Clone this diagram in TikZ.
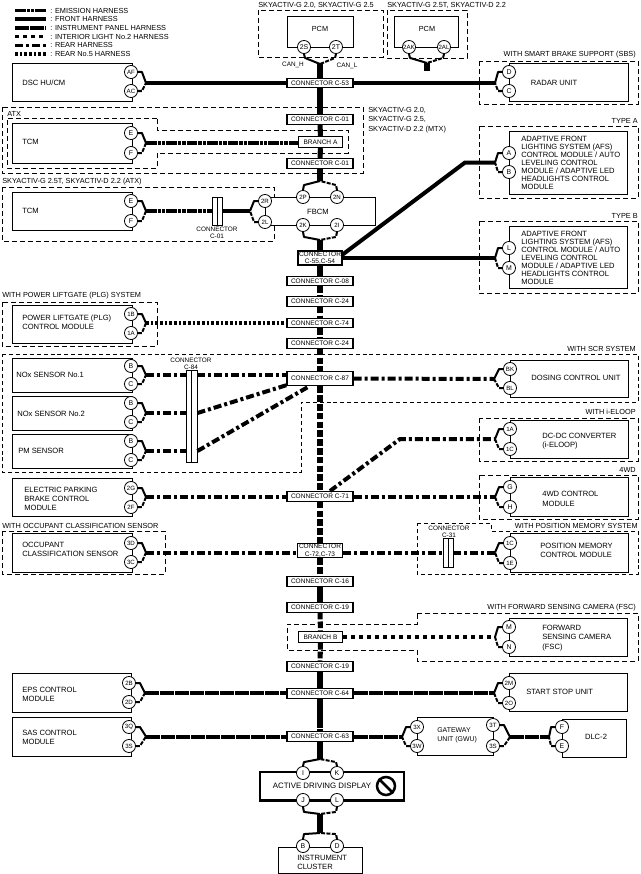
\documentclass[tikz,border=0pt]{standalone}
\usepackage{fontspec}
\setmainfont{Liberation Sans}
\usetikzlibrary{fit}
\tikzset{
  emission/.style={line width=3pt,dash pattern=on 8pt off .7pt on 2.6pt off .7pt on 2.6pt off .7pt},
  front/.style={line width=3pt},
  instr/.style={line width=3pt,dash pattern=on 10.5pt off .75pt},
  interior/.style={line width=3pt,dash pattern=on 3pt off 3pt},
  rear/.style={line width=3pt,dash pattern=on 6pt off 2.25pt on 2.25pt off 2.25pt},
  rearfive/.style={line width=3pt,dash pattern=on 2pt off 1.5pt},
  trunk/.style={line width=3.8pt},
  trunkdash/.style={line width=3.8pt,dash pattern=on 5pt off 1.6pt},
  trunkinstr/.style={line width=3.8pt,dash pattern=on 22pt off .6pt},
  forkup/.style={line width=1.5pt,line join=round},
  forkdn/.style={line width=1.5pt,line join=round,dash pattern=on 3pt off 1pt},
  zone/.style={line width=.7pt,dash pattern=on 3.6pt off 2.4pt},
  thinzone/.style={line width=.55pt,dash pattern=on 3pt off 2.2pt},
  modbox/.style={draw,line width=.6pt,fill=white,inner sep=0pt},
  conbar/.style={draw,line width=.7pt,fill=white,inner sep=0pt},
  pinnode/.style={circle,draw,line width=.6pt,fill=white,inner sep=0pt,minimum size=9.8pt,font=\fontsize{5.2}{6}\selectfont},
  smallpin/.style={pinnode,font=\fontsize{4.6}{5}\selectfont},
  conn/.style={draw,line width=.8pt,fill=white,inner sep=0pt,minimum width=49.5pt,minimum height=7pt,font=\fontsize{4.9}{5.6}\selectfont,align=center},
  txt/.style={inner sep=0pt,anchor=west,align=left,font=\fontsize{5.7}{7}\selectfont},
  dense/.style={inner sep=0pt,anchor=west,align=left,font=\fontsize{5.7}{6}\selectfont},
  lab/.style={inner sep=0pt,font=\fontsize{5.5}{7}\selectfont},
  tiny/.style={inner sep=0pt,align=center,font=\fontsize{4.8}{5.5}\selectfont},
}
\newcommand\forkL[3]{%
  \draw[forkup] (#1.east) -- ++(4,0) -- (#3);
  \draw[forkdn] (#2.east) -- ++(4,0) -- (#3);}
\newcommand\forkR[3]{%
  \draw[forkup] (#1.west) -- ++(-4,0) -- (#3);
  \draw[forkdn] (#2.west) -- ++(-4,0) -- (#3);}
\begin{document}
\begin{tikzpicture}[x=.75pt,y=-.75pt]
\path[use as bounding box,fill=white] (0,0) rectangle (640,874);

% legend
\node[lab,anchor=west] (l1) at (50,10.5) {: EMISSION HARNESS};
\node[lab,anchor=west] (l2) at (50,19) {: FRONT HARNESS};
\node[lab,anchor=west] (l3) at (50,28) {: INSTRUMENT PANEL HARNESS};
\node[lab,anchor=west] (l4) at (50,36.7) {: INTERIOR LIGHT No.2 HARNESS};
\node[lab,anchor=west] (l5) at (50,45.3) {: REAR HARNESS};
\node[lab,anchor=west] (l6) at (50,54) {: REAR No.5 HARNESS};
\draw[emission,line width=2.6pt] (l1.west) ++(-35,0) -- ++(31,0);
\draw[front,line width=2.6pt] (l2.west) ++(-35,0) -- ++(31,0);
\draw[instr,line width=2.6pt] (l3.west) ++(-35,0) -- ++(31,0);
\draw[interior,line width=2.6pt] (l4.west) ++(-35,0) -- ++(31,0);
\draw[rear,line width=2.6pt] (l5.west) ++(-35,0) -- ++(31,0);
\draw[rearfive,line width=2.6pt] (l6.west) ++(-35,0) -- ++(31,0);

% dashed zones
\draw[zone] (258,10) rectangle (383,57);
\draw[zone] (387,10) rectangle (467,58);
\draw[zone] (479,61) rectangle (638,104);
\draw[zone] (2,107) rectangle (363,173);
\draw[zone] (157,118) -- (7,118) -- (7,168) -- (157,168) -- (157,153) -- (348,153) -- (348,130) -- (157,130) -- cycle;
\draw[zone] (479,126) rectangle (638,198);
\draw[zone] (2,187) rectangle (274,241);
\draw[zone] (479,221) rectangle (638,293);
\draw[zone] (2,302) rectangle (157,346);
\draw[thinzone] (2,354) -- (638,354) -- (638,402) -- (301,402) -- (301,472) -- (2,472) -- cycle;
\draw[zone] (479,418) rectangle (638,461);
\draw[zone] (479,475) rectangle (638,519);
\draw[zone] (2,531) rectangle (165,574);
\draw[thinzone] (417,523) -- (491,523) -- (491,531) -- (638,531) -- (638,574) -- (417,574) -- cycle;
\draw[zone] (417,613) -- (638,613) -- (638,661) -- (417,661) -- (417,650) -- (287,650) -- (287,624) -- (417,624) -- cycle;

% zone labels
\node[lab,anchor=west] (z1) at (258,5) {SKYACTIV-G 2.0, SKYACTIV-G 2.5};
\node[lab,anchor=west] (z2) at (387,5) {SKYACTIV-G 2.5T, SKYACTIV-D 2.2};
\node[lab,anchor=east] (z3) at (636,55) {WITH SMART BRAKE SUPPORT (SBS)};
\node[lab,anchor=west] (z4) at (7,114) {ATX};
\node[lab,anchor=west,align=left,font=\fontsize{5.5}{6.9}\selectfont] (z5) at (368,120) {SKYACTIV-G 2.0,\\SKYACTIV-G 2.5,\\SKYACTIV-D 2.2 (MTX)};
\node[lab,anchor=east] (z6) at (638,121) {TYPE A};
\node[lab,anchor=west] (z7) at (2,182) {SKYACTIV-G 2.5T, SKYACTIV-D 2.2 (ATX)};
\node[lab,anchor=east] (z8) at (638,216) {TYPE B};
\node[lab,anchor=west] (z9) at (2,296) {WITH POWER LIFTGATE (PLG) SYSTEM};
\node[lab,anchor=east] (z10) at (636,349) {WITH SCR SYSTEM};
\node[lab,anchor=east] (z11) at (636,412) {WITH i-ELOOP};
\node[lab,anchor=east] (z12) at (636,470) {4WD};
\node[lab,anchor=west] (z13) at (2,526) {WITH OCCUPANT CLASSIFICATION SENSOR};
\node[lab,anchor=east] (z14) at (638,526) {WITH POSITION MEMORY SYSTEM};
\node[lab,anchor=east] (z15) at (636,608) {WITH FORWARD SENSING CAMERA (FSC)};

% module boxes
\node[modbox,fit={(287,16)(353,47)}] (pcma) {};
\node[modbox,fit={(394,16)(458,47)}] (pcmb) {};
\node[modbox,fit={(12,63)(132,101)}] (dsc) {};
\node[modbox,fit={(509,63)(628,101)}] (radar) {};
\node[modbox,fit={(12,123)(132,163)}] (tcma) {};
\node[modbox,fit={(509,131)(627,194)}] (afsa) {};
\node[modbox,fit={(12,192)(132,230)}] (tcmb) {};
\node[modbox,fit={(265,197)(375,225)}] (fbcm) {};
\node[modbox,fit={(509,226)(627,288)}] (afsb) {};
\node[modbox,fit={(12,305)(132,343)}] (plg) {};
\node[modbox,fit={(12,358)(132,392)}] (noxa) {};
\node[modbox,fit={(12,396)(132,430)}] (noxb) {};
\node[modbox,fit={(12,434)(132,468)}] (pm) {};
\node[modbox,fit={(510,360)(628,397)}] (dosing) {};
\node[modbox,fit={(510,420)(628,458)}] (dcdc) {};
\node[modbox,fit={(12,478)(132,516)}] (epb) {};
\node[modbox,fit={(510,477)(628,516)}] (fourwd) {};
\node[modbox,fit={(12,533)(132,572)}] (occ) {};
\node[modbox,fit={(510,533)(628,572)}] (posm) {};
\node[modbox,fit={(509,618)(627,656)}] (fsc) {};
\node[modbox,fit={(12,673)(131,712)}] (eps) {};
\node[modbox,fit={(509,673)(627,711)}] (ssu) {};
\node[modbox,fit={(12,717)(131,756)}] (sas) {};
\node[modbox,fit={(417,717)(493,755)}] (gwu) {};
\node[modbox,fit={(562,719)(626,757)}] (dlc) {};
\node[modbox,line width=1.6pt,fit={(260,772)(404,800.5)}] (add) {};
\node[modbox,fit={(278,847)(362,873)}] (cluster) {};

% module texts
\node[lab] (tp1) at (320,29) {PCM};
\node[lab] (tp2) at (427,29) {PCM};
\node[txt] (t1) at (22,83) {DSC HU/CM};
\node[lab,font=\fontsize{5.7}{7}\selectfont] (t2) at (554,83) {RADAR UNIT};
\node[txt] (t3) at (22,142) {TCM};
\node[txt] (t4) at (22,211) {TCM};
\node[lab,font=\fontsize{5.7}{7}\selectfont] (t5) at (318,212) {FBCM};
\node[dense] (t6) at (521,162.5) {ADAPTIVE FRONT\\LIGHTING SYSTEM (AFS)\\CONTROL MODULE / AUTO\\LEVELING CONTROL\\MODULE / ADAPTIVE LED\\HEADLIGHTS CONTROL\\MODULE};
\node[dense] (t7) at (521,257.5) {ADAPTIVE FRONT\\LIGHTING SYSTEM (AFS)\\CONTROL MODULE / AUTO\\LEVELING CONTROL\\MODULE / ADAPTIVE LED\\HEADLIGHTS CONTROL\\MODULE};
\node[txt] (t8) at (22,322) {POWER LIFTGATE (PLG)\\CONTROL MODULE};
\node[txt] (t9) at (16,375) {NOx SENSOR No.1};
\node[txt] (t10) at (17,414) {NOx SENSOR No.2};
\node[txt] (t11) at (18,451) {PM SENSOR};
\node[lab,font=\fontsize{5.7}{7}\selectfont] (t12) at (576,378) {DOSING CONTROL UNIT};
\node[txt] (t13) at (542,441) {DC-DC CONVERTER\\(i-ELOOP)};
\node[txt] (t14) at (24,499) {ELECTRIC PARKING\\BRAKE CONTROL\\MODULE};
\node[txt] (t15) at (542,499) {4WD CONTROL\\MODULE};
\node[txt] (t16) at (22,549.5) {OCCUPANT\\CLASSIFICATION SENSOR};
\node[txt] (t17) at (540,550.5) {POSITION MEMORY\\CONTROL MODULE};
\node[txt] (t18) at (542,638) {FORWARD\\SENSING CAMERA\\(FSC)};
\node[txt] (t19) at (22,694.5) {EPS CONTROL\\MODULE};
\node[txt] (t20) at (526,692) {START STOP UNIT};
\node[txt] (t21) at (22,737.5) {SAS CONTROL\\MODULE};
\node[dense,font=\fontsize{5.2}{6.8}\selectfont] (t22) at (437,735.5) {GATEWAY\\UNIT (GWU)};
\node[lab,font=\fontsize{5.7}{7}\selectfont] (t23) at (596,737) {DLC-2};
\node[lab,font=\fontsize{5.9}{7}\selectfont] (t24) at (322,786) {ACTIVE DRIVING DISPLAY};
\node[txt] (t25) at (297,862.5) {INSTRUMENT\\CLUSTER};

% connector boxes on the trunk
\node[conn] (c53) at (320,83) {CONNECTOR C-53};
\node[conn] (c01a) at (320,119.5) {CONNECTOR C-01};
\node[conn,minimum width=33.5pt,minimum height=8.5pt] (bra) at (320.5,142) {BRANCH A};
\node[conn] (c01b) at (320,163.5) {CONNECTOR C-01};
\node[conn,minimum width=33pt,minimum height=10.5pt] (c55) at (320,258) {CONNECTOR\\C-55,C-54};
\node[conn] (c08) at (320,281) {CONNECTOR C-08};
\node[conn] (c24a) at (320,301.5) {CONNECTOR C-24};
\node[conn] (c74) at (320,323) {CONNECTOR C-74};
\node[conn] (c24b) at (320,343.5) {CONNECTOR C-24};
\node[conn,minimum height=11pt] (c87) at (320,378.5) {CONNECTOR C-87};
\node[conn] (c71) at (320,496.5) {CONNECTOR C-71};
\node[conn,minimum width=34pt,minimum height=11pt] (c72) at (320,550.5) {CONNECTOR\\C-72,C-73};
\node[conn] (c16) at (320,581.5) {CONNECTOR C-16};
\node[conn] (c19a) at (320,607.5) {CONNECTOR C-19};
\node[conn,minimum width=33.5pt,minimum height=8pt] (brb) at (320.5,637) {BRANCH B};
\node[conn] (c19b) at (320,666.5) {CONNECTOR C-19};
\node[conn] (c64) at (320,693.5) {CONNECTOR C-64};
\node[conn] (c63) at (320,736.5) {CONNECTOR C-63};

% inline connectors
\node[conbar,fit={(212,197)(217,225)}] (d01a) {};
\node[conbar,fit={(217,197)(222,225)}] (d01b) {};
\node[tiny] (d01t) at (217,232.5) {CONNECTOR\\C-01};
\node[conbar,fit={(186,370)(191.5,462)}] (c84a) {};
\node[conbar,fit={(191.5,370)(197,462)}] (c84b) {};
\node[tiny] (c84t) at (191,363.5) {CONNECTOR\\C-84};
\node[conbar,fit={(443,538)(448,567)}] (c31a) {};
\node[conbar,fit={(448,538)(453,567)}] (c31b) {};
\node[tiny] (c31t) at (449,532) {CONNECTOR\\C-31};

% junctions
\coordinate (jtop) at (320,64);
\coordinate (jpcmb) at (427,63);
\coordinate (jpcmbe) at (427,71);
\coordinate (jdsc) at (146,83);
\coordinate (jradar) at (495,83);
\coordinate (jtcma) at (146,143);
\coordinate (jfba) at (320,181);
\coordinate (jfbb) at (320,240);
\coordinate (jtcmb) at (146,211);
\coordinate (jfbl) at (250,211);
\coordinate (bendA) at (465,162.5);
\coordinate (jafsa) at (495,162.5);
\coordinate (jafsb) at (495,258);
\coordinate (jplg) at (146,323);
\coordinate (jnoxa) at (146,375);
\coordinate (jnoxb) at (146,413);
\coordinate (jpm) at (146,451);
\coordinate (jnoxc) at (287,385);
\coordinate (jpmc) at (308,387);
\coordinate (jdos) at (494,379);
\coordinate (bendE) at (400,439);
\coordinate (jdc) at (495,439);
\coordinate (jepb) at (146,497);
\coordinate (j4wd) at (495,497);
\coordinate (jocc) at (146,552.5);
\coordinate (jpos) at (495,552.5);
\coordinate (jfsc) at (495,637);
\coordinate (jeps) at (145,693);
\coordinate (jssu) at (494,693);
\coordinate (jsas) at (146,736.5);
\coordinate (jgl) at (402,737);
\coordinate (jgr) at (510,737);
\coordinate (jdlc) at (549,737);
\coordinate (jadd) at (320,759);
\coordinate (jaddb) at (320,814);
\coordinate (jclu) at (320,833);
\coordinate (sEl) at (330,491);
\coordinate (sA) at (342,255);

% horizontal and sloped harness runs
\draw[front] (jdsc) -- (jdsc -| c53.west);
\draw[front] (c53.east) -- (c53.east -| jradar);
\draw[emission] (jtcma) -- (jtcma -| bra.west);
\draw[emission] (jtcmb) -- (jtcmb -| d01a.west);
\draw[front] (jfbl -| d01b.east) -- (jfbl);
\draw[front,line join=miter] (sA) -- (bendA) -- (jafsa);
\draw[front] (c55.east) -- (jafsb);
\draw[rearfive] (jplg) -- (jplg -| c74.west);
\draw[rear] (jnoxa) -- (jnoxa -| c84a.west);
\draw[rear] (jnoxb) -- (jnoxb -| c84a.west);
\draw[rear] (jpm) -- (jpm -| c84a.west);
\draw[rear] (jnoxa -| c84b.east) -- (jnoxa -| c87.west);
\draw[rear] (jnoxb -| c84b.east) -- (jnoxc);
\draw[rear] (jpm -| c84b.east) -- (jpmc);
\draw[rear] (c87.east) -- (jdos);
\draw[rear,line join=miter] (sEl) -- (bendE) -- (jdc);
\draw[rear] (jepb) -- (jepb -| c71.west);
\draw[rear] (jepb -| c71.east) -- (j4wd);
\draw[rear] (jocc) -- (jocc -| c72.west);
\draw[rear] (jocc -| c72.east) -- (jocc -| c31a.west);
\draw[rear] (jocc -| c31b.east) -- (jpos);
\draw[interior] (brb.east) -- (jfsc);
\draw[instr] (jeps) -- (jeps -| c64.west);
\draw[instr] (jeps -| c64.east) -- (jssu);
\draw[instr] (jsas) -- (jsas -| c63.west);
\draw[instr] (jgl -| c63.east) -- (jgl);
\draw[instr] (jgr) -- (jdlc);

% trunk
\draw[trunk] (jtop) -- (c53);
\draw[trunk] (c53) -- (c01a);
\draw[trunk] (c01a) -- (bra);
\draw[trunk] (bra) -- (c01b);
\draw[trunk] (c01b) -- (jfba);
\draw[trunk] (jfbb) -- (c55);
\draw[trunk] (c55) -- (c08);
\draw[trunkdash] (c08) -- (c24a);
\draw[trunkdash] (c24a) -- (c74);
\draw[trunkdash] (c74) -- (c24b);
\draw[trunkdash] (c24b) -- (c87);
\draw[trunkdash] (c87) -- (c71);
\draw[trunkdash] (c71) -- (c72);
\draw[trunkdash] (c72) -- (c16);
\draw[trunk] (c16) -- (c19a);
\draw[trunkdash] (c19a) -- (brb);
\draw[trunkdash] (brb) -- (c19b);
\draw[trunkinstr] (c19b) -- (c64);
\draw[trunkinstr] (c64) -- (c63);
\draw[trunk] (c63) -- (jadd);
\draw[trunk] (jaddb) -- (jclu);
\draw[line width=3.8pt] (jpcmb) -- (jpcmbe);

% pins
\node[pinnode] (p2s) at (304,47) {2S};
\node[pinnode] (p2t) at (336,47) {2T};
\node[smallpin] (p2ak) at (409,47) {2AK};
\node[smallpin] (p2al) at (444,47) {2AL};
\node[smallpin] (paf) at (131,72) {AF};
\node[smallpin] (pac) at (131,91) {AC};
\node[pinnode] (pd) at (509,72) {D};
\node[pinnode] (pc) at (509,91) {C};
\node[pinnode] (pe1) at (131,133) {E};
\node[pinnode] (pf1) at (131,153) {F};
\node[pinnode] (pa) at (509,153) {A};
\node[pinnode] (pb) at (509,172) {B};
\node[pinnode] (pe2) at (131,201) {E};
\node[pinnode] (pf2) at (131,221) {F};
\node[smallpin] (p2r) at (265,201) {2R};
\node[smallpin] (p2l) at (265,222) {2L};
\node[smallpin] (p2p) at (303,197) {2P};
\node[smallpin] (p2n) at (337,197) {2N};
\node[smallpin] (p2k) at (303,225) {2K};
\node[smallpin] (p2i) at (337,225) {2I};
\node[pinnode] (pl) at (509,248) {L};
\node[pinnode] (pm2) at (509,268) {M};
\node[smallpin] (p1b) at (131,314) {1B};
\node[smallpin] (p1a) at (131,333) {1A};
\node[pinnode] (pb1) at (131,366) {B};
\node[pinnode] (pc1) at (131,384) {C};
\node[pinnode] (pb2) at (131,403) {B};
\node[pinnode] (pc2) at (131,422) {C};
\node[pinnode] (pb3) at (131,441) {B};
\node[pinnode] (pc3) at (131,460) {C};
\node[smallpin] (pbk) at (510,369) {BK};
\node[smallpin] (pbl) at (510,388) {BL};
\node[smallpin] (p1a2) at (510,429) {1A};
\node[smallpin] (p1c2) at (510,449) {1C};
\node[smallpin] (p2g) at (131,488) {2G};
\node[smallpin] (p2f) at (131,507) {2F};
\node[pinnode] (pg) at (510,487) {G};
\node[pinnode] (ph) at (510,507) {H};
\node[smallpin] (p3d) at (131,543) {3D};
\node[smallpin] (p3c) at (131,562) {3C};
\node[smallpin] (p1c3) at (510,543) {1C};
\node[smallpin] (p1e) at (510,563) {1E};
\node[pinnode] (pm3) at (509,627) {M};
\node[pinnode] (pn) at (509,647) {N};
\node[smallpin] (p2b) at (129,683) {2B};
\node[smallpin] (p2d) at (129,702) {2D};
\node[smallpin] (p2m) at (509,683) {2M};
\node[smallpin] (p2o) at (509,703) {2O};
\node[smallpin] (p3q) at (129,727) {3Q};
\node[smallpin] (p3s) at (129,746) {3S};
\node[smallpin] (p3x) at (417,727) {3X};
\node[smallpin] (p3w) at (417,746) {3W};
\node[smallpin] (p3t) at (493,725) {3T};
\node[smallpin] (p3s2) at (493,746) {3S};
\node[pinnode] (pf3) at (562,727) {F};
\node[pinnode] (pe3) at (562,746) {E};
\node[pinnode] (pi) at (303,773) {I};
\node[pinnode] (pk) at (337,773) {K};
\node[pinnode] (pj) at (303,800) {J};
\node[pinnode] (pl2) at (337,800) {L};
\node[pinnode] (pb4) at (303,846) {B};
\node[pinnode] (pd2) at (337,846) {D};

% thin forks
\forkL{paf}{pac}{jdsc}
\forkR{pd}{pc}{jradar}
\forkL{pe1}{pf1}{jtcma}
\forkR{pa}{pb}{jafsa}
\forkL{pe2}{pf2}{jtcmb}
\draw[forkup] (p2r.west) -- ++(-4,0) -- (jfbl);
\draw[forkdn] (p2l.west) -- ++(-4,0) -- (jfbl);
\forkR{pl}{pm2}{jafsb}
\forkL{p1b}{p1a}{jplg}
\forkL{pb1}{pc1}{jnoxa}
\forkL{pb2}{pc2}{jnoxb}
\forkL{pb3}{pc3}{jpm}
\forkR{pbk}{pbl}{jdos}
\forkR{p1a2}{p1c2}{jdc}
\forkL{p2g}{p2f}{jepb}
\forkR{pg}{ph}{j4wd}
\forkL{p3d}{p3c}{jocc}
\forkR{p1c3}{p1e}{jpos}
\forkR{pm3}{pn}{jfsc}
\forkL{p2b}{p2d}{jeps}
\forkR{p2m}{p2o}{jssu}
\forkL{p3q}{p3s}{jsas}
\forkR{p3x}{p3w}{jgl}
\forkL{p3t}{p3s2}{jgr}
\forkR{pf3}{pe3}{jdlc}
% vertical forks
\draw[forkup] (p2s.south) -- ++(1,4) -- (jtop);
\draw[forkdn] (p2t.south) -- ++(-1,4) -- (jtop);
\draw[forkup] (p2ak.south) -- ++(1,4) -- (jpcmb);
\draw[forkdn] (p2al.south) -- ++(-1,4) -- (jpcmb);
\draw[forkup] (p2p.north) -- ++(1,-5) -- (jfba);
\draw[forkdn] (p2n.north) -- ++(-1,-5) -- (jfba);
\draw[forkup] (p2k.south) -- ++(1,5) -- (jfbb);
\draw[forkdn] (p2i.south) -- ++(-1,5) -- (jfbb);
\draw[forkup] (pi.north) -- ++(1,-4) -- (jadd);
\draw[forkdn] (pk.north) -- ++(-1,-4) -- (jadd);
\draw[forkup] (pj.south) -- ++(1,5) -- (jaddb);
\draw[forkdn] (pl2.south) -- ++(-1,5) -- (jaddb);
\draw[forkup] (pb4.north) -- ++(1,-5) -- (jclu);
\draw[forkdn] (pd2.north) -- ++(-1,-5) -- (jclu);

% CAN labels and prohibition sign
\node[tiny] (canh) at (293,65) {CAN\_H};
\node[tiny] (canl) at (347,66) {CAN\_L};
\node[circle,draw,line width=1.9pt,inner sep=0pt,minimum size=13.5pt] (nosign) at (386,786) {};
\draw[line width=1.9pt] (nosign.north west) -- (nosign.south east);
\end{tikzpicture}
\end{document}
